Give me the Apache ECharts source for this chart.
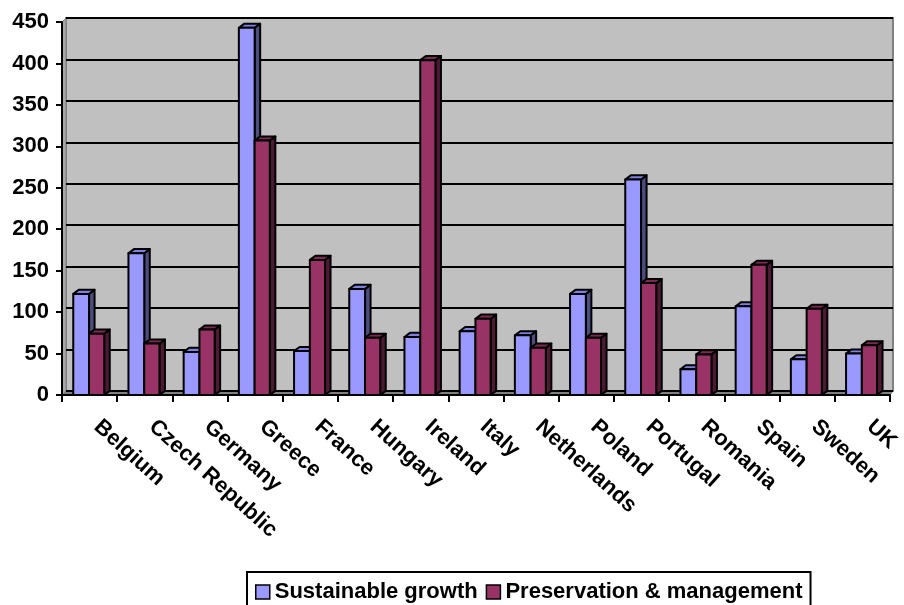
<!DOCTYPE html>
<html>
<head>
<meta charset="utf-8">
<script src="https://cdn.jsdelivr.net/npm/echarts@6/dist/echarts.min.js"></script>
<style>
  html, body { margin: 0; padding: 0; background: #fff; }
  #chart { width: 904px; height: 605px; }
</style>
</head>
<body>
<div id="chart"></div>
<script>
// 数据
var countries = ['Belgium', 'Czech Republic', 'Germany', 'Greece', 'France', 'Hungary', 'Ireland',
  'Italy', 'Netherlands', 'Poland', 'Portugal', 'Romania', 'Spain', 'Sweden', 'UK']
var growth = [122, 171, 52, 443, 53, 128, 70, 77, 72, 122, 260, 31, 107, 43, 50]
var preservation = [74, 62, 79, 307, 163, 69, 404, 92, 57, 69, 135, 49, 157, 104, 60]
var seriesNames = ['Sustainable growth', 'Preservation & management']

var font = "'Liberation Sans', Arial, sans-serif"

// 颜色: 正面, 侧面, 顶面
var colors = [
  { front: '#9999FF', side: '#4D4D80', top: '#8080E0' },
  { front: '#993366', side: '#4D1A33', top: '#7F2A55' }
]

// 3D柱子 (正面 + 顶面 + 侧面)
function make3dBar(k) {
  return function(params, api) {
    var idx = api.value(0)
    var val = api.value(1)
    var band = api.size([1, 0])[0]
    var base = api.coord([idx, 0])
    var top = api.coord([idx, val])
    var x0 = base[0] - band / 2 + band * (k === 0 ? 0.204 : 0.49)
    var w = band * (k === 0 ? 0.286 : 0.275)
    var dx = band * 0.1
    var dy = -dx * 0.75
    var yb = base[1]
    var yt = top[1]
    var st = { stroke: '#000', lineWidth: 2, lineJoin: 'round' }
    var c = colors[k]
    return {
      type: 'group',
      children: [
        { type: 'polygon', shape: { points: [[x0 + w, yb], [x0 + w + dx, yb + dy], [x0 + w + dx, yt + dy], [x0 + w, yt]] },
          style: Object.assign({ fill: c.side }, st) },
        { type: 'polygon', shape: { points: [[x0, yt], [x0 + dx, yt + dy], [x0 + w + dx, yt + dy], [x0 + w, yt]] },
          style: Object.assign({ fill: c.top }, st) },
        { type: 'rect', shape: { x: x0, y: yt, width: w, height: yb - yt },
          style: Object.assign({ fill: c.front }, st) }
      ]
    }
  }
}

function toData(arr) {
  return arr.map(function(v, i) { return [i, v] })
}

var myChart = echarts.init(document.getElementById('chart'))

var option = {
  backgroundColor: '#fff',
  animation: false,
  textStyle: { fontFamily: font },
  grid: [
    { // 背墙
      left: 66, right: 11, top: 18, bottom: 214,
      show: true, backgroundColor: '#C0C0C0', borderColor: '#808080', borderWidth: 2
    },
    { // 前面 (坐标轴 + 柱子)
      left: 62, right: 14, top: 22, bottom: 210
    }
  ],
  graphic: [
    { type: 'polygon', z: 0, shape: { points: [[62, 22], [66, 18], [66, 391], [62, 395]] },
      style: { fill: '#A8A8A8', stroke: '#808080', lineWidth: 1 } },
    { type: 'polygon', z: 0, shape: { points: [[62, 395], [66, 391], [893, 391], [890, 395]] },
      style: { fill: '#808080', stroke: '#808080', lineWidth: 1 } }
  ],
  legend: {
    left: 247, top: 572,
    orient: 'horizontal',
    data: seriesNames,
    icon: 'rect',
    itemWidth: 14, itemHeight: 14, itemGap: 8,
    padding: [9, 8, 16, 8],
    borderColor: '#000', borderWidth: 2,
    itemStyle: { borderColor: '#000', borderWidth: 1.5 },
    textStyle: { fontFamily: font, fontWeight: 'bold', fontSize: 22, color: '#000' }
  },
  xAxis: [
    { gridIndex: 0, type: 'category', data: countries, show: false },
    {
      gridIndex: 1, type: 'category', data: countries,
      axisLine: { lineStyle: { color: '#000', width: 2 } },
      axisTick: { show: true, length: 7, lineStyle: { color: '#000', width: 2 } },
      axisLabel: {
        interval: 0, rotate: -42, margin: 37,
        align: 'left', verticalAlign: 'bottom',
        fontFamily: font, fontWeight: 'bold', fontSize: 22, color: '#000'
      },
      splitLine: { show: false }
    }
  ],
  yAxis: [
    {
      gridIndex: 0, type: 'value', min: 0, max: 450, interval: 50,
      axisLine: { show: false }, axisTick: { show: false }, axisLabel: { show: false },
      splitLine: { show: true, lineStyle: { color: '#000', width: 2 } }
    },
    {
      gridIndex: 1, type: 'value', min: 0, max: 450, interval: 50,
      axisLine: { show: true, lineStyle: { color: '#000', width: 2 } },
      axisTick: { show: true, length: 6, lineStyle: { color: '#000', width: 2 } },
      axisLabel: { margin: 13, fontFamily: font, fontWeight: 'bold', fontSize: 22, color: '#000' },
      splitLine: { show: false }
    }
  ],
  series: [
    {
      name: seriesNames[0], type: 'custom', xAxisIndex: 1, yAxisIndex: 1,
      renderItem: make3dBar(0),
      itemStyle: { color: colors[0].front },
      encode: { x: 0, y: 1 },
      data: toData(growth),
      z: 3
    },
    {
      name: seriesNames[1], type: 'custom', xAxisIndex: 1, yAxisIndex: 1,
      renderItem: make3dBar(1),
      itemStyle: { color: colors[1].front },
      encode: { x: 0, y: 1 },
      data: toData(preservation),
      z: 4
    }
  ]
}
myChart.setOption(option)
</script>
</body>
</html>
